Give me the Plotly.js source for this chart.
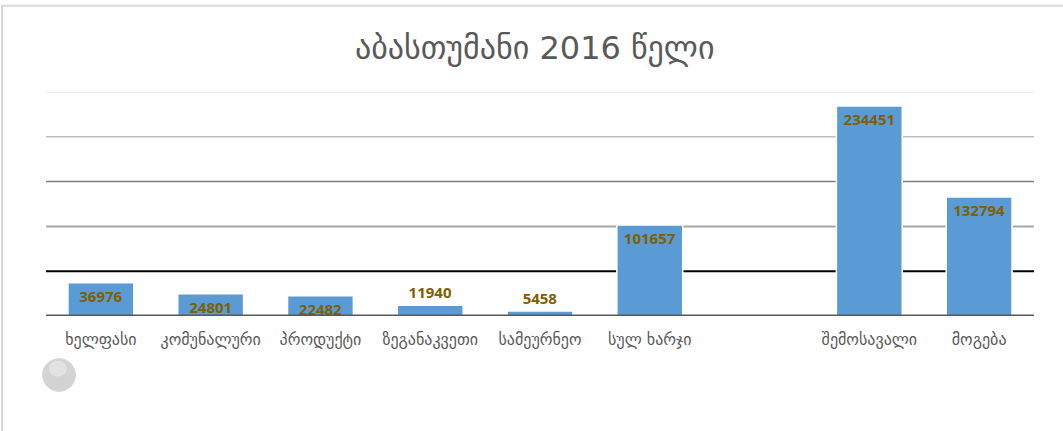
<!DOCTYPE html>
<html>
<head>
<meta charset="utf-8">
<script src="https://cdn.plot.ly/plotly-3.0.1.min.js"></script>
<style>html,body{margin:0;padding:0;background:#fff;}#chart{width:1063px;height:431px;}</style>
</head>
<body>
<div id="chart"></div>
<script>
const chartTitle = "აბასთუმანი 2016 წელი";
const categories = ["ხელფასი", "კომუნალური", "პროდუქტი", "ზეგანაკვეთი", "სამეურნეო", "სულ ხარჯი", " ", "შემოსავალი", "მოგება"];
const values = [36976, 24801, 22482, 11940, 5458, 101657, null, 234451, 132794];
const labelPositions = ["inside", "inside", "inside", "outside", "outside", "inside", "none", "inside", "inside"];
const gridValues = [50000, 100000, 150000, 200000, 250000];
const gridColors = ["#000000", "#a6a6a6", "#7f7f7f", "#bfbfbf", "#d9d9d9"];
const gridWidths = [2, 2, 1.5, 1.5, 1];

const gridShapes = gridValues.map((v, i) => ({
  type: "line", xref: "paper", yref: "y", x0: 0, x1: 1, y0: v, y1: v,
  line: {color: gridColors[i], width: gridWidths[i]}, layer: "below"
}));

const trace = {
  type: "bar",
  x: categories,
  y: values,
  text: values.map(v => v === null ? "" : String(v)),
  textposition: labelPositions,
  insidetextanchor: "end",
  constraintext: "none",
  cliponaxis: false,
  textfont: {family: "Open Sans, sans-serif", size: 15, color: "#7f6000", weight: "bold"},
  marker: {color: "#5b9bd5", line: {color: "#ffffff", width: 1.5}},
  hoverinfo: "skip"
};

const layout = {
  width: 1063, height: 431,
  margin: {l: 46, r: 29, t: 92, b: 115},
  paper_bgcolor: "#ffffff", plot_bgcolor: "#ffffff",
  showlegend: false,
  bargap: 0.4,
  title: {text: chartTitle, x: 0.503, xanchor: "center", y: 0.888, yanchor: "middle",
          font: {family: "DejaVu Sans, sans-serif", size: 32, color: "#595959"}},
  xaxis: {type: "category", showgrid: false, zeroline: false, showline: false, ticks: "",
          ticklabelstandoff: 12,
          tickfont: {family: "DejaVu Sans, sans-serif", size: 16, color: "#595959"}},
  yaxis: {range: [0, 250000], showgrid: false, zeroline: false, showticklabels: false, showline: false, fixedrange: true},
  shapes: gridShapes.concat([
    {type: "line", xref: "paper", yref: "y", x0: 0, x1: 1, y0: 0, y1: 0,
     line: {color: "#595959", width: 3}, layer: "above"},
    {type: "rect", xref: "paper", yref: "paper", x0: -0.0445, x1: 1.2, y0: -0.8, y1: 1.385,
     line: {color: "#d9d9d9", width: 2}, fillcolor: "rgba(0,0,0,0)", layer: "below"},
    {type: "circle", xref: "paper", yref: "paper", x0: -0.0035, x1: 0.0298, y0: -0.337, y1: -0.1897,
     line: {color: "#dcdcdc", width: 1}, fillcolor: "#d3d3d3", layer: "above"},
    {type: "circle", xref: "paper", yref: "paper", x0: 0.003, x1: 0.021, y0: -0.27, y1: -0.2,
     line: {width: 0}, fillcolor: "rgba(255,255,255,0.35)", layer: "above"}
  ])
};

Plotly.newPlot("chart", [trace], layout, {displayModeBar: false, staticPlot: true});
</script>
</body>
</html>
